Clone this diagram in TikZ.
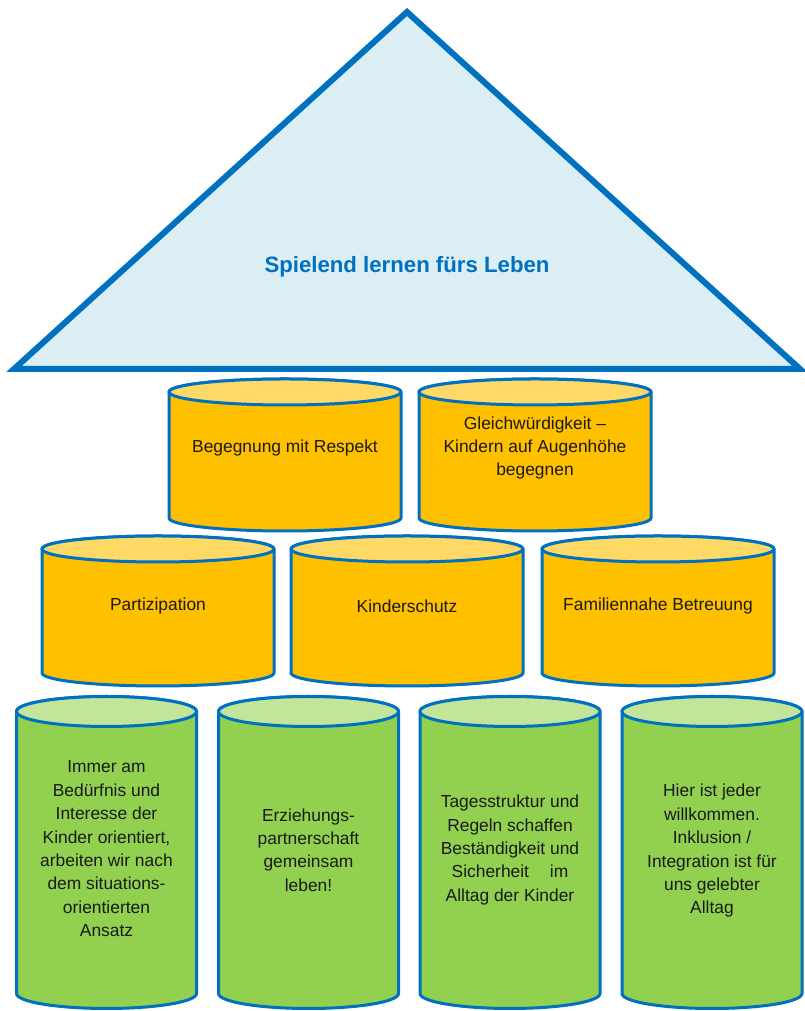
\documentclass[tikz,border=0pt]{standalone}
\usepackage{fontspec}
\setmainfont{Liberation Sans}
\definecolor{cblue}{HTML}{0070C0}
\definecolor{roofbg}{HTML}{DAEEF3}
\definecolor{obody}{HTML}{FFC000}
\definecolor{otop}{HTML}{FFD966}
\definecolor{gbody}{HTML}{92D050}
\definecolor{gtop}{HTML}{C2E59A}
\definecolor{txt}{HTML}{1A1A1A}
% \cyl{cx}{rx}{ytop}{ybot}{ry}{body}{top}  (pixel coordinates, y downward)
\newcommand{\cyl}[7]{%
  \filldraw[cylline, fill=#6] ({#1-#2},{1011-#3}) -- ({#1-#2},{1011-#4})
    arc[start angle=180,end angle=360,x radius=#2,y radius=#5]
    -- ({#1+#2},{1011-#3})
    arc[start angle=0,end angle=180,x radius=#2,y radius=#5] -- cycle;
  \filldraw[cylline, fill=#7] ({#1},{1011-#3}) ellipse[x radius=#2, y radius=#5];
}
\begin{document}
\begin{tikzpicture}[x=1pt,y=1pt,
  cylline/.style={draw=cblue, line width=3pt, line join=round},
  roof/.style={draw=cblue, fill=roofbg, line width=6pt, line join=miter},
  lbl/.style={align=center, inner sep=0pt, text=txt, font=\fontsize{17.4}{23.4}\selectfont},
  title/.style={inner sep=0pt, text=cblue, font=\fontsize{22.2}{26}\selectfont\bfseries}]
\useasboundingbox (0,0) rectangle (804,1011);
% roof
\coordinate (rl) at (14,{1011-369});
\coordinate (rr) at (800,{1011-369});
\coordinate (ra) at (407,{1011-12});
\draw[roof] (rl) -- (ra) -- (rr) -- cycle;
\node[title] (t) at (407,{1011-267}) {Spielend lernen fürs Leben};
% top row
\cyl{285}{116}{392}{518}{13}{obody}{otop}
\cyl{535}{116}{392}{518}{13}{obody}{otop}
\node[lbl] (a1) at (285,{1011-448}) {Begegnung mit Respekt};
\node[lbl] (a2) at (535,{1011-448}) {Gleichwürdigkeit –\\Kindern auf Augenhöhe\\begegnen};
% middle row
\cyl{158}{116}{549}{673}{13}{obody}{otop}
\cyl{407}{116}{549}{673}{13}{obody}{otop}
\cyl{658}{116}{549}{673}{13}{obody}{otop}
\node[lbl] (b1) at (158,{1011-606}) {Partizipation};
\node[lbl] (b2) at (407,{1011-606}) {Kinderschutz};
\node[lbl] (b3) at (658,{1011-606}) {Familiennahe Betreuung};
% bottom row
\cyl{106.5}{90}{711.5}{993.5}{15}{gbody}{gtop}
\cyl{308.5}{90}{711.5}{993.5}{15}{gbody}{gtop}
\cyl{510}{90}{711.5}{993.5}{15}{gbody}{gtop}
\cyl{712}{90}{711.5}{993.5}{15}{gbody}{gtop}
\node[lbl] (c1) at (106.5,{1011-849}) {Immer am\\Bedürfnis und\\Interesse der\\Kinder orientiert,\\arbeiten wir nach\\dem situations-\\orientierten\\Ansatz};
\node[lbl] (c2) at (308.5,{1011-850}) {Erziehungs-\\partnerschaft\\gemeinsam\\leben!};
\node[lbl] (c3) at (510,{1011-850}) {Tagesstruktur und\\Regeln schaffen\\Beständigkeit und\\Sicherheit\hspace{1.2em}im\\Alltag der Kinder};
\node[lbl] (c4) at (712,{1011-851}) {Hier ist jeder\\willkommen.\\Inklusion /\\Integration ist für\\uns gelebter\\Alltag};
\end{tikzpicture}
\end{document}
